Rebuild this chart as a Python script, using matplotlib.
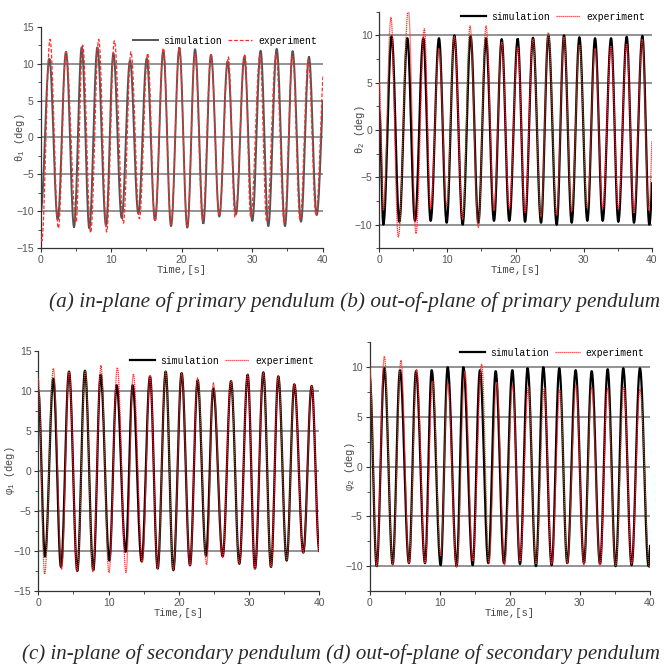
import numpy as np
import matplotlib
matplotlib.use("Agg")
import matplotlib.pyplot as plt
from matplotlib.ticker import MultipleLocator

plt.rcParams["mathtext.fontset"] = "custom"
plt.rcParams["mathtext.rm"] = "Liberation Mono"
plt.rcParams["mathtext.it"] = "Liberation Mono"
plt.rcParams["mathtext.default"] = "regular"

# turning points (time in s, angle in deg), alternating peak / trough

# (a) in-plane, primary pendulum
a_sim_t = [0, 1.23, 2.41, 3.59, 4.73, 5.82, 6.9, 8.04, 9.27, 10.31, 11.49, 12.67, 13.85, 15.04,
           16.22, 17.4, 18.49, 19.67, 20.8, 21.9, 23.07, 24.16, 25.34, 26.52, 27.7, 28.89, 30.02,
           31.2, 32.29, 33.48, 34.66, 35.74, 36.93, 38.06, 39.15, 40.45]
a_sim_v = [-10, 10.6, -11.1, 11.6, -12.1, 12.2, -12.3, 12.2, -11.9, 11.4, -10.9, 10.4, -10.3, 10.7,
           -11.2, 11.75, -12.0, 12.1, -12.2, 11.9, -11.6, 11.2, -10.7, 10.3, -10.4, 10.9, -11.3,
           11.75, -12.0, 12.0, -12.0, 11.7, -11.4, 10.9, -10.5, 10.5]
a_exp_t = [0, 0.15, 1.32, 2.51, 3.59, 5.01, 5.96, 7.09, 8.23, 9.36, 10.45, 11.73, 12.81, 14.0,
           15.18, 16.22, 17.4, 18.49, 19.67, 20.8, 21.9, 22.98, 24.16, 25.34, 26.62, 27.57, 28.98,
           29.79, 31.11, 32.06, 33.39, 34.56, 35.74, 36.79, 37.97, 39.05, 40.3]
a_exp_v = [-13, -14.0, 13.3, -12.3, 11.6, -11.5, 12.5, -12.9, 13.3, -12.8, 13.1, -11.6, 11.6, -11.0,
           11.4, -11.4, 12.1, -11.8, 12.1, -12.0, 11.3, -11.2, 11.2, -10.6, 10.9, -10.8, 11.3,
           -10.9, 11.2, -11.4, 11.3, -11.6, 11.0, -11.2, 10.5, -10.5, 10.5]

# (b) out-of-plane, primary pendulum
b_sim_t = [0, 0.59, 1.81, 2.94, 4.11, 5.24, 6.46, 7.54, 8.76, 9.89, 11.02, 12.24, 13.41, 14.54,
           15.67, 16.84, 17.97, 19.09, 20.32, 21.4, 22.57, 23.75, 24.82, 26.05, 27.12, 28.25,
           29.38, 30.55, 31.68, 32.8, 34.03, 35.1, 36.33, 37.4, 38.63, 39.65, 40.85]
b_sim_v = [2, -10.0, 9.9, -9.7, 9.7, -9.6, 9.7, -9.6, 9.7, -9.8, 10.0, -10.0, 9.9, -9.8,
           9.7, -9.6, 9.6, -9.6, 9.6, -9.7, 9.75, -9.8, 10.0, -10.0, 10.0, -9.8, 9.8, -9.6,
           9.7, -9.6, 9.7, -9.7, 9.85, -9.8, 9.95, -10.0, 9.9]
b_exp_t = [0, 0.6, 1.71, 2.79, 4.26, 5.39, 6.61, 7.54, 8.76, 9.89, 11.02, 12.24, 13.32, 14.54,
           15.67, 16.84, 17.97, 19.09, 20.32, 21.4, 22.57, 23.75, 24.82, 26.05, 27.12, 28.25,
           29.38, 30.55, 31.68, 32.8, 34.03, 35.1, 36.33, 37.4, 38.63, 39.55, 40.6]
b_exp_v = [5, -8.5, 11.9, -11.3, 12.75, -10.95, 10.7, -8.3, 8.6, -8.0, 9.9, -9.4, 11.0, -10.3,
           11.0, -8.5, 9.3, -8.3, 8.8, -8.7, 9.6, -9.2, 10.3, -9.0, 9.8, -8.6, 9.0, -8.3,
           8.6, -8.3, 8.9, -8.4, 9.1, -8.8, 9.6, -8.5, 9.0]

# (c) in-plane, secondary pendulum
c_sim_t = [0, 0.95, 2.14, 3.23, 4.37, 5.55, 6.64, 7.83, 8.87, 10.11, 11.15, 12.43, 13.43, 14.71,
           15.9, 16.99, 18.13, 19.22, 20.4, 21.59, 22.68, 23.87, 24.91, 26.24, 27.43, 28.61, 29.8,
           30.84, 32.03, 33.12, 34.16, 35.35, 36.44, 37.72, 38.91, 40.0]
c_sim_v = [10.0, -10.7, 11.5, -12.0, 12.4, -12.5, 12.5, -12.4, 12.0, -11.2, 10.7, -10.1, 10.7, -11.3,
           11.8, -12.2, 12.4, -12.4, 12.2, -11.8, 11.3, -10.6, 10.3, -10.7, 11.2, -11.6, 12.0,
           -12.2, 12.3, -12.0, 11.8, -11.2, 10.8, -10.2, 10.6, -10.0]
c_exp_t = [0, 0.9, 2.14, 3.32, 4.37, 5.55, 6.69, 7.78, 8.92, 10.06, 11.25, 12.48, 13.53, 14.8,
           15.9, 16.99, 18.13, 19.22, 20.4, 21.59, 22.68, 23.96, 24.91, 26.24, 27.43, 28.61, 29.8,
           30.84, 32.03, 33.12, 34.16, 35.35, 36.44, 37.72, 38.91, 40.0]
c_exp_v = [11.5, -12.9, 12.8, -12.3, 12.4, -12.5, 12.5, -12.6, 13.1, -12.7, 12.9, -12.7, 12.1, -11.4,
           11.8, -12.2, 12.4, -12.4, 12.2, -11.8, 11.6, -11.7, 11.0, -10.7, 11.2, -11.6, 12.0,
           -12.2, 12.3, -12.0, 11.8, -11.2, 10.8, -10.2, 10.6, -10.0]

# (d) out-of-plane, secondary pendulum
d_sim_t = [0, 1.0, 2.09, 3.28, 4.33, 5.61, 6.61, 7.9, 8.85, 10.13, 11.13, 12.41, 13.37, 14.7,
           15.74, 16.93, 17.98, 19.17, 20.36, 21.45, 22.54, 23.73, 24.78, 25.97, 27.06, 28.2,
           29.39, 30.58, 31.68, 32.87, 33.96, 35.1, 36.19, 37.38, 38.57, 39.8, 40.85]
d_sim_v = [9.0, -10.0, 9.9, -9.8, 9.7, -9.7, 9.6, -9.7, 9.7, -9.9, 10.0, -10.0, 10.0, -9.9,
           9.7, -9.7, 9.6, -9.7, 9.7, -9.8, 9.9, -10.0, 10.0, -9.9, 9.9, -9.7, 9.7, -9.7,
           9.6, -9.8, 9.8, -10.0, 9.9, -9.9, 9.9, -10.0, 9.9]
d_exp_t = [0, 1.0, 2.09, 3.28, 4.47, 5.61, 6.71, 7.9, 8.99, 10.13, 11.13, 12.41, 13.6, 14.7,
           15.98, 17.03, 18.12, 19.26, 20.4, 21.45, 22.64, 23.73, 24.92, 25.97, 27.16, 28.2,
           29.44, 30.58, 31.68, 32.87, 33.96, 35.1, 36.28, 37.38, 38.57, 39.95, 41.0]
d_exp_v = [10.0, -10.0, 11.1, -9.9, 10.7, -9.7, 9.8, -9.7, 8.6, -9.0, 8.4, -10.1, 9.6, -9.5,
           10.3, -9.7, 8.5, -9.9, 8.2, -9.5, 8.0, -9.8, 7.9, -9.8, 7.7, -9.7, 8.2, -9.9,
           8.0, -9.9, 7.9, -10.0, 8.0, -9.8, 7.8, -10.2, 8.0]

ylabels = ["θ$_{1}$ (deg)", "θ$_{2}$ (deg)", "φ$_{1}$ (deg)", "φ$_{2}$ (deg)"]
captions = ["(a) in-plane of primary pendulum (b) out-of-plane of primary pendulum",
            "(c) in-plane of secondary pendulum (d) out-of-plane of secondary pendulum"]


def wave(tp, vp, n=30):
    # half-cosine between consecutive turning points
    ts, vs = [], []
    for k in range(len(tp) - 1):
        t = np.linspace(tp[k], tp[k + 1], n)
        s = (t - tp[k]) / (tp[k + 1] - tp[k])
        v = (vp[k] + vp[k + 1]) / 2 + (vp[k] - vp[k + 1]) / 2 * np.cos(np.pi * s)
        ts.append(t)
        vs.append(v)
    return np.concatenate(ts), np.concatenate(vs)


fig = plt.figure(figsize=(6.65, 6.66), dpi=100)

panels = [
    # rect, ylim, sim, exp, sim colour, exp style, legend anchor, ylabel x
    ([0.0612, 0.6272, 0.4240, 0.3327], (-15, 15), (a_sim_t, a_sim_v), (a_exp_t, a_exp_v),
     "#555555", (0, (3, 1.5)), (0.98, 0.937), -0.049),
    ([0.5704, 0.6272, 0.4096, 0.3552], (-12.5, 12.5), (b_sim_t, b_sim_v), (b_exp_t, b_exp_v),
     "black", (0, (1, 0.6)), (0.975, 0.979), -0.046),
    ([0.0576, 0.1126, 0.4226, 0.3608], (-15, 15), (c_sim_t, c_sim_v), (c_exp_t, c_exp_v),
     "black", (0, (1, 0.6)), (0.981, 0.958), -0.075),
    ([0.5559, 0.1126, 0.4215, 0.3734], (-12.5, 12.5), (d_sim_t, d_sim_v), (d_exp_t, d_exp_v),
     "black", (0, (1, 0.6)), (0.979, 0.958), -0.044),
]

for i, (rect, ylim, sim, exp, scol, estyle, anchor, ylx) in enumerate(panels):
    ax = fig.add_axes(rect)
    for y in [-10, -5, 0, 5, 10]:
        ax.axhline(y, color="#8a8a8a", lw=1.3, zorder=1)
    ts, vs = wave(*sim)
    te, ve = wave(*exp)
    ax.plot(ts, vs, color=scol, lw=1.6 if i else 1.4, label="simulation", zorder=2)
    ax.plot(te, ve, color="#ff2a2a", lw=0.9, ls=estyle, label="experiment", zorder=3)
    ax.set_xlim(0, 40)
    ax.set_ylim(*ylim)
    ax.xaxis.set_major_locator(MultipleLocator(10))
    ax.xaxis.set_minor_locator(MultipleLocator(5))
    ax.yaxis.set_major_locator(MultipleLocator(5))
    ax.yaxis.set_minor_locator(MultipleLocator(2.5))
    ax.spines["top"].set_visible(False)
    ax.spines["right"].set_visible(False)
    for sp in ["left", "bottom"]:
        ax.spines[sp].set_color("#333333")
        ax.spines[sp].set_linewidth(0.9)
    ax.tick_params(which="major", direction="out", length=3, width=0.8, color="#333333",
                   labelsize=7.5, labelcolor="#555555", pad=2)
    ax.tick_params(which="minor", direction="out", length=2, width=0.6, color="#333333")
    for lab in ax.get_xticklabels() + ax.get_yticklabels():
        lab.set_fontfamily("Liberation Sans")
    ax.set_xlabel("Time,[s]", fontsize=7.5, family="Liberation Mono", color="#444444", labelpad=0)
    ax.set_ylabel(ylabels[i], fontsize=7.5, family="Liberation Mono", color="#444444")
    ax.yaxis.set_label_coords(ylx, 0.5)
    ax.legend(loc="center right", bbox_to_anchor=anchor, ncol=2, frameon=False,
              prop={"family": "Liberation Mono", "size": 7}, handlelength=2.5,
              handletextpad=0.6, columnspacing=0.6, borderpad=0, borderaxespad=0)

fig.text(660 / 665, 1 - 302 / 666, captions[0], ha="right", va="center", fontsize=15.3,
         family="Liberation Serif", style="italic", color="#2a2a2a")
fig.text(660 / 665, 1 - 654 / 666, captions[1], ha="right", va="center", fontsize=15.0,
         family="Liberation Serif", style="italic", color="#2a2a2a")

fig.savefig("out.png", dpi=100, facecolor="white")
